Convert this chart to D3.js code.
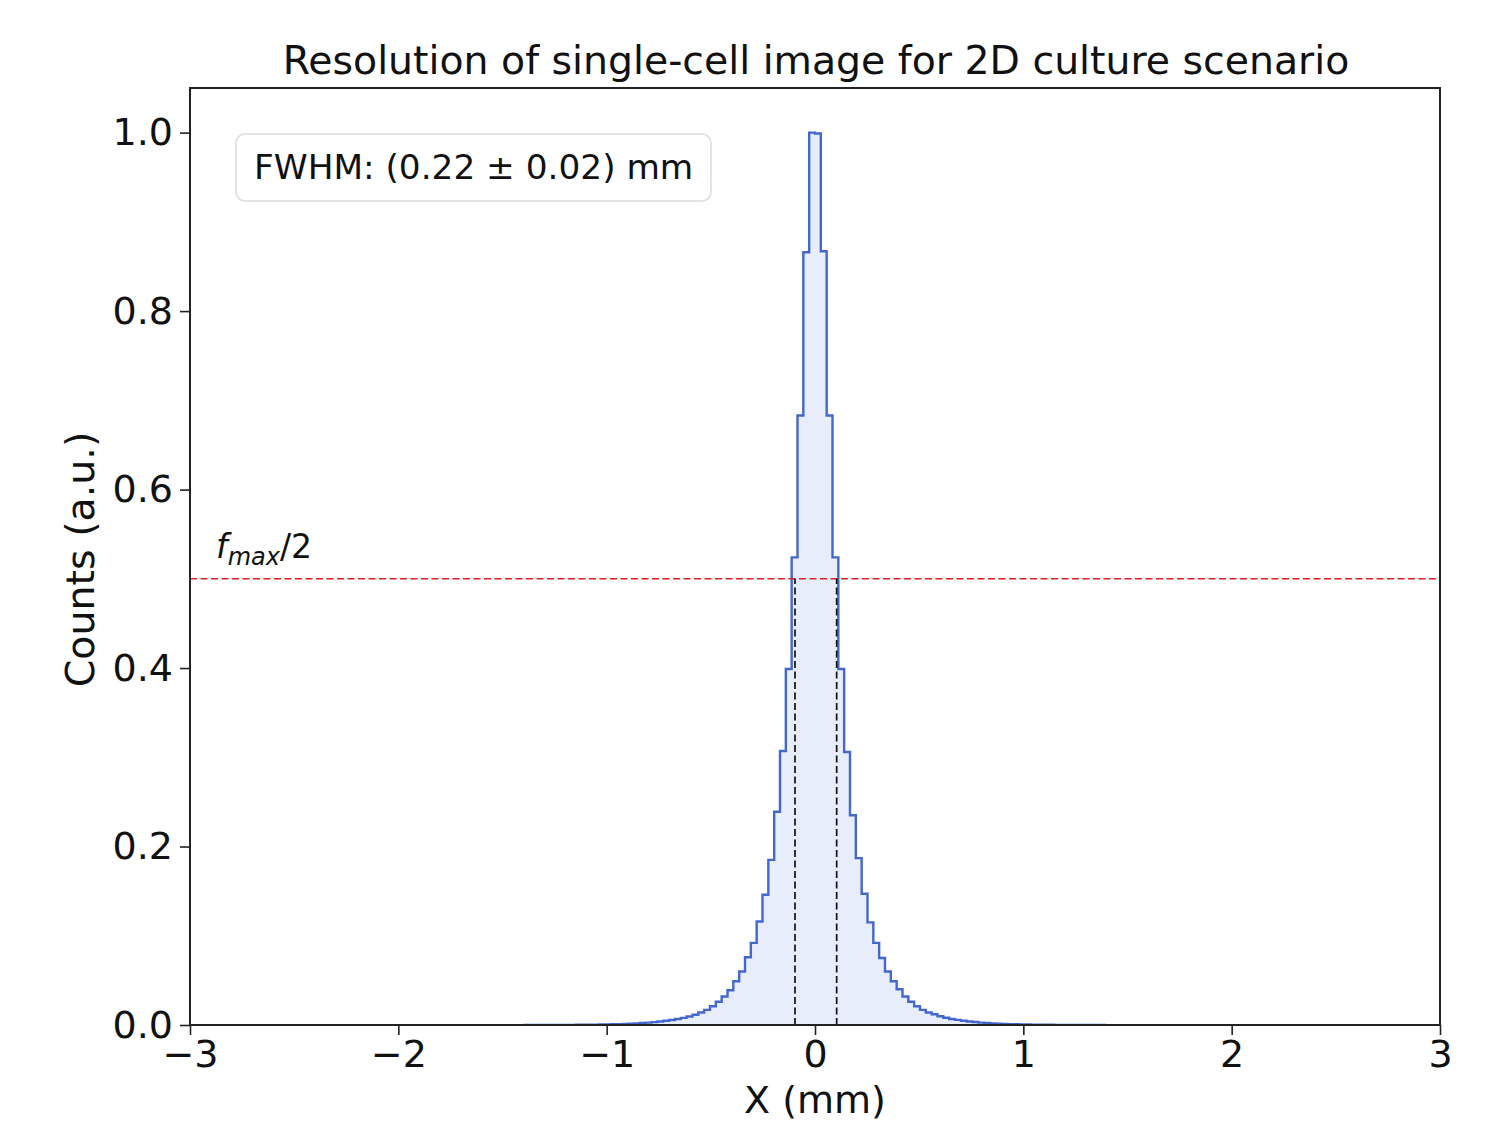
<!DOCTYPE html>
<html>
<head>
<meta charset="utf-8">
<script src="https://cdn.jsdelivr.net/npm/d3@7"></script>
<style>
  html, body { margin: 0; padding: 0; background: #fff; }
  svg { display: block; }
  text { font-family: "DejaVu Sans", sans-serif; fill: #111; }
</style>
</head>
<body>
<svg id="chart" width="1508" height="1125"></svg>
<script>
// ---------------- data ----------------
const title = "Resolution of single-cell image for 2D culture scenario";
const xLabel = "X (mm)";
const yLabel = "Counts (a.u.)";
const legendText = "FWHM: (0.22 \u00b1 0.02) mm";
const xTicks = [-3, -2, -1, 0, 1, 2, 3];
const yTicks = [0.0, 0.2, 0.4, 0.6, 0.8, 1.0];
const xDomain = [-3, 3];
const yDomain = [0, 1.05];

// histogram: 100 bins from -1.4 to 1.4 (width 0.028)
const binStart = -1.4;
const binWidth = 0.028;
// left half, from outermost bin to the bin just left of 0
const countsLeft = [0, 0, 0, 0, 0, 0, 0.0001, 0.0001, 0.0001, 0.0002, 0.0002, 0.0003, 0.0004,
  0.0005, 0.0006, 0.0008, 0.0010, 0.0012, 0.0015, 0.0018, 0.0022, 0.0027, 0.0032, 0.0039,
  0.0047, 0.0056, 0.0067, 0.0080, 0.0095, 0.0115, 0.014, 0.017, 0.021, 0.026, 0.032, 0.039,
  0.049, 0.060, 0.076, 0.092, 0.116, 0.146, 0.185, 0.239, 0.307, 0.399, 0.524, 0.683, 0.866, 1.000];
// right half, from the bin just right of 0 to the outermost bin
const countsRight = [0.999, 0.867, 0.683, 0.524, 0.399, 0.306, 0.235, 0.187, 0.147, 0.115,
  0.092, 0.075, 0.060, 0.049, 0.040, 0.032, 0.026, 0.021, 0.017, 0.014, 0.012, 0.0098, 0.0082,
  0.0068, 0.0057, 0.0048, 0.0040, 0.0033, 0.0027, 0.0022, 0.0018, 0.0015, 0.0012, 0.0010,
  0.0008, 0.0007, 0.0005, 0.0004, 0.0003, 0.0002, 0.0002, 0.0001, 0.0001, 0.0001, 0, 0, 0, 0, 0, 0];
const counts = countsLeft.concat(countsRight);

const halfMax = 0.5;
const fwhmEdges = [-0.096, 0.104];

// ---------------- layout ----------------
const svg = d3.select("#chart");
const plot = { left: 190, right: 1440, top: 88, bottom: 1025 };

const x = d3.scaleLinear().domain(xDomain).range([plot.left, plot.right]);
const y = d3.scaleLinear().domain(yDomain).range([plot.bottom, plot.top]);

// build step points
const pts = [[binStart, 0]];
counts.forEach((c, i) => {
  const e0 = binStart + i * binWidth, e1 = binStart + (i + 1) * binWidth;
  pts.push([e0, c], [e1, c]);
});
pts.push([binStart + counts.length * binWidth, 0]);

svg.append("clipPath").attr("id", "clip")
  .append("rect").attr("x", plot.left).attr("y", plot.top)
  .attr("width", plot.right - plot.left).attr("height", plot.bottom - plot.top);

const g = svg.append("g").attr("clip-path", "url(#clip)");

g.append("path")
  .datum(pts)
  .attr("d", d3.area().x(d => x(d[0])).y0(y(0)).y1(d => y(d[1])))
  .attr("fill", "rgba(65,105,225,0.12)")
  .attr("stroke", "none");

g.append("path")
  .datum(pts)
  .attr("d", d3.line().x(d => x(d[0])).y(d => y(d[1])))
  .attr("fill", "none")
  .attr("stroke", "#4367cf")
  .attr("stroke-width", 2.4)
  .attr("stroke-linejoin", "miter");

// half max line
g.append("line")
  .attr("x1", plot.left).attr("x2", plot.right)
  .attr("y1", y(halfMax)).attr("y2", y(halfMax))
  .attr("stroke", "#e02020").attr("stroke-width", 1.6)
  .attr("stroke-dasharray", "7,3.5");

// FWHM vertical lines
fwhmEdges.forEach(v => {
  g.append("line")
    .attr("x1", x(v)).attr("x2", x(v))
    .attr("y1", y(0)).attr("y2", y(halfMax))
    .attr("stroke", "#111").attr("stroke-width", 1.7)
    .attr("stroke-dasharray", "7,3.5");
});

// frame
svg.append("rect")
  .attr("x", plot.left).attr("y", plot.top)
  .attr("width", plot.right - plot.left).attr("height", plot.bottom - plot.top)
  .attr("fill", "none").attr("stroke", "#222").attr("stroke-width", 2);

// axes
const fmtX = d => (d < 0 ? "\u2212" + Math.abs(d) : String(d));
const xAxis = svg.append("g")
  .attr("transform", `translate(0,${plot.bottom})`)
  .call(d3.axisBottom(x).tickValues(xTicks).tickFormat(fmtX).tickSize(10).tickPadding(5));
const yAxis = svg.append("g")
  .attr("transform", `translate(${plot.left},0)`)
  .call(d3.axisLeft(y).tickValues(yTicks).tickFormat(d3.format(".1f")).tickSize(10).tickPadding(7));

[xAxis, yAxis].forEach(a => {
  a.select(".domain").remove();
  a.selectAll(".tick line").attr("stroke", "#222").attr("stroke-width", 1.6);
  a.selectAll(".tick text").attr("font-family", "DejaVu Sans").attr("font-size", 38).attr("fill", "#111");
});

// title
svg.append("text")
  .attr("x", 816).attr("y", 74)
  .attr("text-anchor", "middle").attr("font-size", 39.4)
  .text(title);

// axis labels
svg.append("text")
  .attr("x", 815).attr("y", 1113)
  .attr("text-anchor", "middle").attr("font-size", 38)
  .text(xLabel);

svg.append("text")
  .attr("transform", `translate(94,${(plot.top + plot.bottom) / 2 + 3}) rotate(-90)`)
  .attr("text-anchor", "middle").attr("font-size", 39.5)
  .text(yLabel);

// f_max/2 label
const fl = svg.append("text").attr("x", 216).attr("y", 558).attr("font-size", 33);
fl.append("tspan").attr("font-style", "italic").text("f");
fl.append("tspan").attr("font-style", "italic").attr("font-size", 24).attr("dy", 7).text("max");
fl.append("tspan").attr("dy", -7).text("/2");

// legend box
svg.append("rect")
  .attr("x", 236).attr("y", 134).attr("width", 475).attr("height", 67)
  .attr("rx", 9).attr("ry", 9)
  .attr("fill", "#fff").attr("stroke", "#dcdcdc").attr("stroke-width", 1.5);
svg.append("text")
  .attr("x", 254).attr("y", 179).attr("font-size", 34.3)
  .text(legendText);
</script>
</body>
</html>
